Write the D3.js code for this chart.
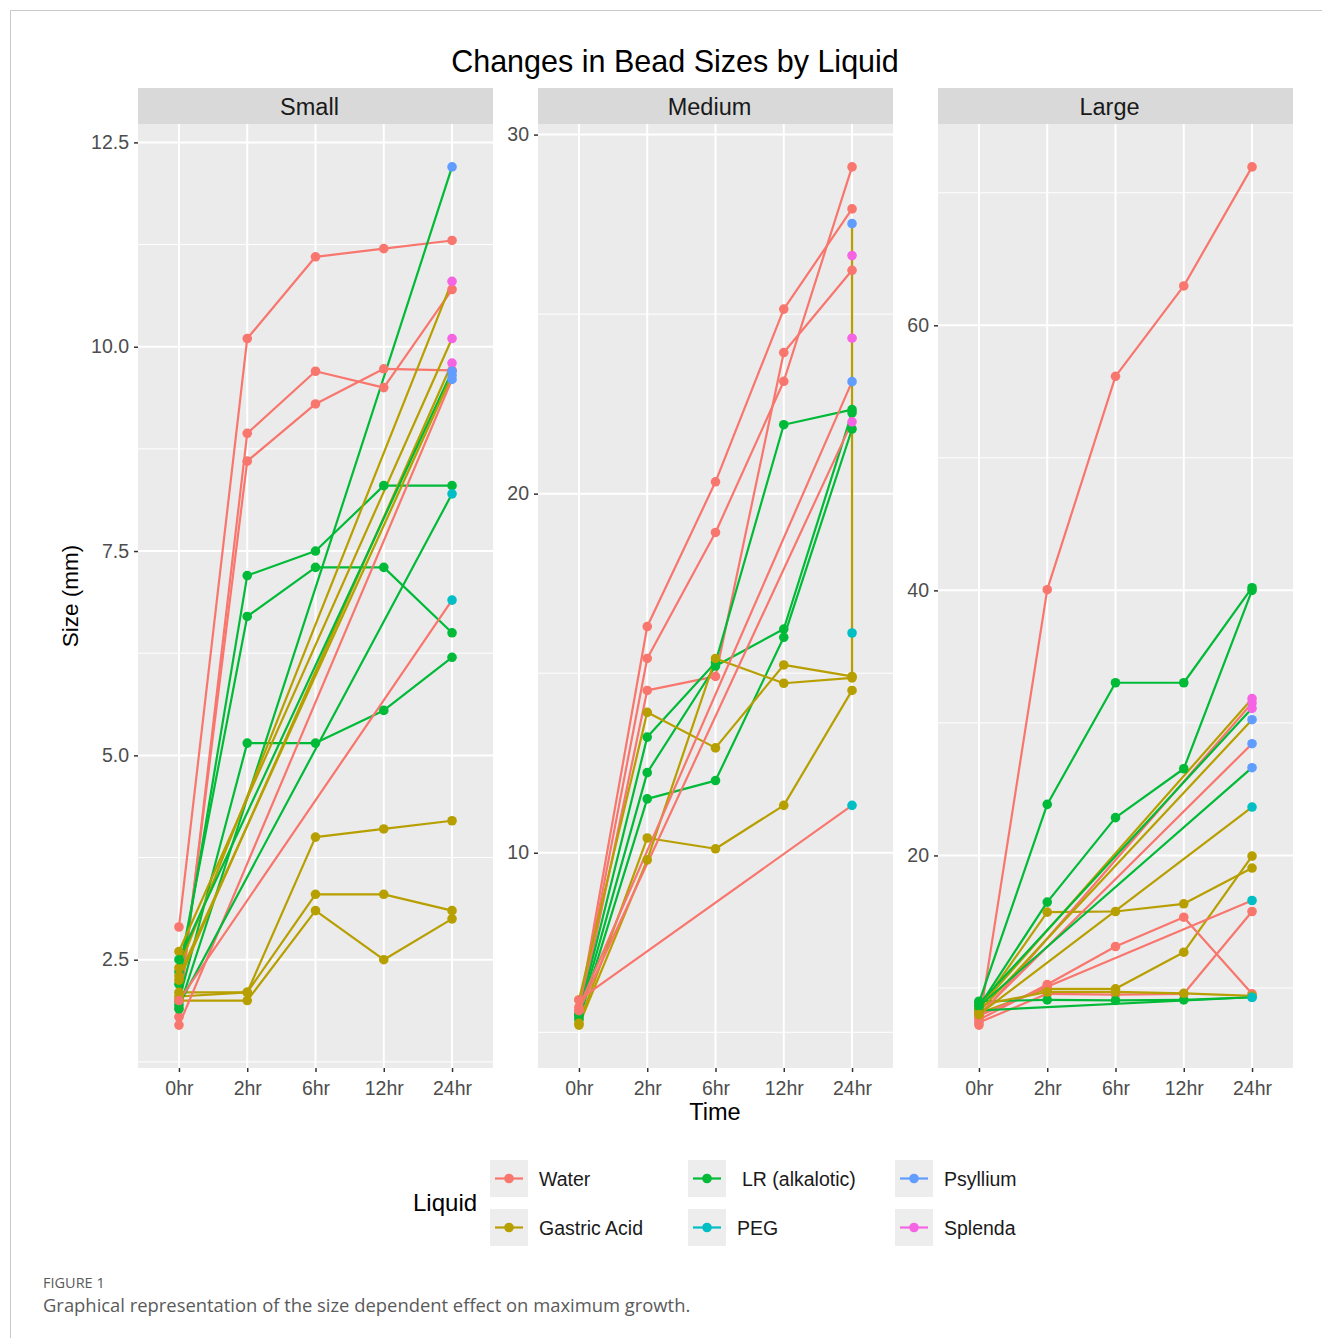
<!DOCTYPE html>
<html>
<head>
<meta charset="utf-8">
<script src="https://cdn.jsdelivr.net/npm/d3@7"></script>
<style>
  html, body { margin: 0; padding: 0; background: #fff; }
  svg { display: block; font-family: "Liberation Sans", Arial, Helvetica, sans-serif; }
</style>
</head>
<body>
<svg id="chart" width="1322" height="1338"></svg>
<script>
// ---- data ----------------------------------------------------------------
const times = ["0hr", "2hr", "6hr", "12hr", "24hr"];
const liquids = ["Water", "Gastric Acid", "LR (alkalotic)", "PEG", "Psyllium", "Splenda"];
const liquidColors = ["#F8766D", "#B79F00", "#00BA38", "#00BFC4", "#619CFF", "#F564E3"];
const sizeNames = ["Small", "Medium", "Large"];

// Bead tracks: size (mm) at 0, 2, 6, 12, 24 hr (null = not measured).
// "end" is the liquid recorded on the 24 hr reading when it differs;
// "extra" is a second 24 hr reading [value, liquid].
const smallTracks = [
  { liquid: "Water", values: [2.9, 10.1, 11.1, 11.2, 11.3] },
  { liquid: "Water", values: [1.8, 8.94, 9.7, 9.5, 10.7] },
  { liquid: "Water", values: [1.9, 8.6, 9.3, 9.73, 9.71] },
  { liquid: "LR (alkalotic)", values: [2.2, 7.2, 7.5, 8.3, 8.3] },
  { liquid: "LR (alkalotic)", values: [2.35, 6.7, 7.3, 7.3, 6.5] },
  { liquid: "LR (alkalotic)", values: [2.0, 5.15, 5.15, 5.55, 6.2] },
  { liquid: "Gastric Acid", values: [2.1, 2.1, 4.0, 4.1, 4.2] },
  { liquid: "Gastric Acid", values: [2.05, 2.1, 3.3, 3.3, 3.1] },
  { liquid: "Gastric Acid", values: [2.0, 2.0, 3.1, 2.5, 3.0] },
  { liquid: "LR (alkalotic)", values: [1.9, null, null, null, 12.2], end: "Psyllium" },
  { liquid: "Gastric Acid", values: [2.4, null, null, null, 10.8], end: "Splenda" },
  { liquid: "Gastric Acid", values: [2.6, null, null, null, 10.1], end: "Splenda" },
  { liquid: "Gastric Acid", values: [2.25, null, null, null, 9.8], end: "Splenda" },
  { liquid: "LR (alkalotic)", values: [2.5, null, null, null, 9.7], end: "Psyllium" },
  { liquid: "Water", values: [1.7, null, null, null, 9.6], end: "Psyllium" },
  { liquid: "Gastric Acid", values: [2.3, null, null, null, 9.65], end: "Psyllium" },
  { liquid: "LR (alkalotic)", values: [1.95, null, null, null, 8.2], end: "PEG" },
  { liquid: "Water", values: [2.0, null, null, null, 6.9], end: "PEG" }
];

const mediumTracks = [
  { liquid: "Water", values: [5.6, 16.3, 20.33, 25.14, 27.93] },
  { liquid: "Water", values: [5.5, 15.41, 18.92, 23.13, 29.1] },
  { liquid: "Water", values: [5.4, 14.52, 14.91, 23.93, 26.22] },
  { liquid: "LR (alkalotic)", values: [5.5, 13.22, 15.3, 21.92, 22.34] },
  { liquid: "LR (alkalotic)", values: [5.45, 12.23, 15.2, 16.23, 22.25] },
  { liquid: "LR (alkalotic)", values: [5.35, 11.5, 12.01, 16.0, 21.8] },
  { liquid: "Gastric Acid", values: [5.9, 13.91, 12.92, 15.23, 14.91], extra: [27.52, "Psyllium"] },
  { liquid: "Gastric Acid", values: [5.2, 9.8, 15.41, 14.72, 14.87] },
  { liquid: "Gastric Acid", values: [5.25, 10.41, 10.11, 11.32, 14.52] },
  { liquid: "Water", values: [5.7, null, null, null, 23.12], end: "Psyllium" },
  { liquid: "Water", values: [5.6, null, null, null, 22.0], end: "Splenda" },
  { liquid: "Water", values: [5.9, null, null, null, 11.32], end: "PEG" },
  { liquid: "PEG", values: [null, null, null, null, 16.12] },
  { liquid: "Splenda", values: [null, null, null, null, 26.63] },
  { liquid: "Splenda", values: [null, null, null, null, 24.33] }
];

const largeTracks = [
  { liquid: "Water", values: [7.2, 40.05, 56.15, 62.97, 71.95] },
  { liquid: "LR (alkalotic)", values: [8.9, 23.85, 33.03, 33.03, 40.2] },
  { liquid: "LR (alkalotic)", values: [8.6, 16.48, 22.85, 26.54, 40.0] },
  { liquid: "Gastric Acid", values: [8.4, 15.72, 15.77, 16.35, 19.05] },
  { liquid: "Gastric Acid", values: [8.1, 9.94, 9.94, 12.7, 19.95] },
  { liquid: "Water", values: [7.6, 10.26, 13.13, 15.34, 9.56] },
  { liquid: "Water", values: [7.4, 9.56, 9.5, 9.56, 15.77] },
  { liquid: "Water", values: [7.9, 10.1, null, null, 16.6], end: "PEG" },
  { liquid: "LR (alkalotic)", values: [9.0, 9.1, 9.06, 9.1, 9.3], end: "PEG" },
  { liquid: "Gastric Acid", values: [8.7, 9.7, 9.7, 9.6, 9.4] },
  { liquid: "LR (alkalotic)", values: [8.3, null, null, null, 9.3], end: "PEG" },
  { liquid: "Gastric Acid", values: [8.5, null, null, null, 31.83], end: "Splenda" },
  { liquid: "Water", values: [7.8, null, null, null, 31.5], end: "Splenda" },
  { liquid: "LR (alkalotic)", values: [8.8, null, null, null, 31.1], end: "Splenda" },
  { liquid: "Gastric Acid", values: [8.2, null, null, null, 30.24], end: "Psyllium" },
  { liquid: "Water", values: [8.0, null, null, null, 28.43], end: "Psyllium" },
  { liquid: "LR (alkalotic)", values: [8.6, null, null, null, 26.62], end: "Psyllium" },
  { liquid: "Gastric Acid", values: [8.0, null, null, null, 23.65], end: "PEG" }
];

const smallTicks = [2.5, 5, 7.5, 10, 12.5];
const mediumTicks = [10, 20, 30];
const largeTicks = [20, 40, 60];

// ---- layout --------------------------------------------------------------
const svg = d3.select("#chart");
const color = d3.scaleOrdinal(liquids, liquidColors);

const panelLefts = [138, 538, 938];
const panelWidth = 355;
const stripTop = 88, panelTop = 124, panelBottom = 1068;

// page frame
svg.append("path")
  .attr("d", "M10.5,1338 V10.5 H1322")
  .attr("fill", "none").attr("stroke", "#c8c8c8").attr("stroke-width", 1);

// title
svg.append("text")
  .attr("x", 675).attr("y", 72)
  .attr("text-anchor", "middle")
  .attr("font-size", 30.5).attr("fill", "#000")
  .text("Changes in Bead Sizes by Liquid");

function toPoints(track) {
  const pts = [];
  track.values.forEach((v, i) => {
    if (v == null) return;
    const liq = (i === times.length - 1 && track.end) ? track.end : track.liquid;
    pts.push({ t: times[i], v: v, liquid: liq });
  });
  if (track.extra) pts.push({ t: times[times.length - 1], v: track.extra[0], liquid: track.extra[1] });
  return pts;
}

const panels = [
  { name: sizeNames[0], tracks: smallTracks, ticks: smallTicks, fmt: d3.format(".1f") },
  { name: sizeNames[1], tracks: mediumTracks, ticks: mediumTicks, fmt: d3.format("d") },
  { name: sizeNames[2], tracks: largeTracks, ticks: largeTicks, fmt: d3.format("d") }
];

panels.forEach((p, k) => {
  const x0 = panelLefts[k];
  const x = d3.scalePoint(times, [x0, x0 + panelWidth]).padding(0.6);

  const tracks = p.tracks.map(toPoints);
  const allVals = tracks.flat().map(d => d.v);
  const [lo, hi] = d3.extent(allVals);
  const pad = (hi - lo) * 0.05;
  const y = d3.scaleLinear([lo - pad, hi + pad], [panelBottom, panelTop]);

  const g = svg.append("g");

  // strip
  g.append("rect")
    .attr("x", x0).attr("y", stripTop)
    .attr("width", panelWidth).attr("height", panelTop - stripTop)
    .attr("fill", "#D9D9D9");
  g.append("text")
    .attr("x", x0 + panelWidth / 2 - 6).attr("y", 115)
    .attr("text-anchor", "middle")
    .attr("font-size", 23.5).attr("fill", "#1A1A1A")
    .text(p.name);

  // panel background
  g.append("rect")
    .attr("x", x0).attr("y", panelTop)
    .attr("width", panelWidth).attr("height", panelBottom - panelTop)
    .attr("fill", "#EBEBEB");

  // minor grid
  const step = p.ticks[1] - p.ticks[0];
  const [d0, d1] = y.domain();
  const minors = p.ticks.map(t => t - step / 2)
    .concat([p.ticks[p.ticks.length - 1] + step / 2])
    .filter(v => v >= d0 && v <= d1);
  g.selectAll(".minor").data(minors).join("line")
    .attr("x1", x0).attr("x2", x0 + panelWidth)
    .attr("y1", d => y(d)).attr("y2", d => y(d))
    .attr("stroke", "#fff").attr("stroke-width", 1);

  // major grid
  g.selectAll(".major").data(p.ticks).join("line")
    .attr("x1", x0).attr("x2", x0 + panelWidth)
    .attr("y1", d => y(d)).attr("y2", d => y(d))
    .attr("stroke", "#fff").attr("stroke-width", 2);
  g.selectAll(".vgrid").data(times).join("line")
    .attr("x1", d => x(d)).attr("x2", d => x(d))
    .attr("y1", panelTop).attr("y2", panelBottom)
    .attr("stroke", "#fff").attr("stroke-width", 2);

  // axes
  const yAxis = g.append("g")
    .attr("transform", `translate(${x0},0)`)
    .call(d3.axisLeft(y).tickValues(p.ticks).tickFormat(p.fmt).tickSize(4).tickPadding(5));
  const xAxis = g.append("g")
    .attr("transform", `translate(0,${panelBottom})`)
    .call(d3.axisBottom(x).tickSize(4).tickPadding(9));
  [yAxis, xAxis].forEach(a => {
    a.select(".domain").remove();
    a.selectAll(".tick line").attr("stroke", "#333333").attr("stroke-width", 1.5);
    a.selectAll(".tick text")
      .attr("fill", "#4D4D4D")
      .attr("font-size", 19.5)
      .attr("font-family", "Liberation Sans, Arial, sans-serif");
  });

  // lines: each segment takes the colour of its starting reading
  const segs = [];
  tracks.forEach(pts => {
    for (let i = 0; i < pts.length - 1; i++) segs.push([pts[i], pts[i + 1]]);
  });
  g.append("g").selectAll("line").data(segs).join("line")
    .attr("x1", d => x(d[0].t)).attr("y1", d => y(d[0].v))
    .attr("x2", d => x(d[1].t)).attr("y2", d => y(d[1].v))
    .attr("stroke", d => color(d[0].liquid))
    .attr("stroke-width", 2.2)
    .attr("stroke-linecap", "round");

  // points
  g.append("g").selectAll("circle").data(tracks.flat()).join("circle")
    .attr("cx", d => x(d.t)).attr("cy", d => y(d.v))
    .attr("r", 4.8)
    .attr("fill", d => color(d.liquid));
});

// axis titles
svg.append("text")
  .attr("transform", "translate(78,596) rotate(-90)")
  .attr("text-anchor", "middle")
  .attr("font-size", 22.5).attr("fill", "#000")
  .text("Size (mm)");
svg.append("text")
  .attr("x", 715).attr("y", 1120)
  .attr("text-anchor", "middle")
  .attr("font-size", 23.5).attr("fill", "#000")
  .text("Time");

// legend
const legend = svg.append("g");
legend.append("text")
  .attr("x", 413).attr("y", 1211)
  .attr("font-size", 24).attr("fill", "#000")
  .text("Liquid");
const colX = [490, 688, 895];
const rowY = [1160, 1209];
liquids.forEach((liq, i) => {
  const kx = colX[Math.floor(i / 2)], ky = rowY[i % 2];
  const item = legend.append("g").attr("transform", `translate(${kx},${ky})`);
  item.append("rect").attr("width", 38).attr("height", 37).attr("fill", "#EDEDED");
  item.append("line")
    .attr("x1", 5).attr("x2", 33).attr("y1", 18.5).attr("y2", 18.5)
    .attr("stroke", color(liq)).attr("stroke-width", 2.2);
  item.append("circle").attr("cx", 19).attr("cy", 18.5).attr("r", 4.8).attr("fill", color(liq));
  item.append("text")
    .attr("x", liq === "LR (alkalotic)" ? 54 : 49).attr("y", 25.5)
    .attr("font-size", 19.5).attr("fill", "#1A1A1A")
    .text(liq);
});

// caption
svg.append("text")
  .attr("x", 43).attr("y", 1288)
  .attr("font-family", "Open Sans, Liberation Sans, sans-serif")
  .attr("font-size", 14.5).attr("fill", "#5a5a5a")
  .text("FIGURE 1");
svg.append("text")
  .attr("x", 43).attr("y", 1312)
  .attr("font-family", "Open Sans, Liberation Sans, sans-serif")
  .attr("font-size", 18.4).attr("fill", "#5a5a5a")
  .text("Graphical representation of the size dependent effect on maximum growth.");
</script>
</body>
</html>
